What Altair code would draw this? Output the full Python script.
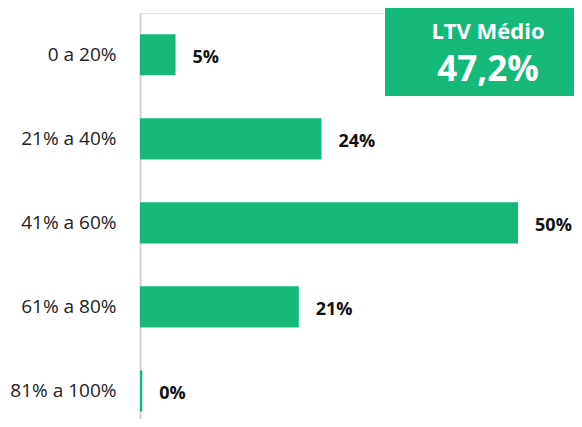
import altair as alt
import pandas as pd

categories = ["0 a 20%", "21% a 40%", "41% a 60%", "61% a 80%", "81% a 100%"]
values = [4.7, 24.0, 50.0, 21.0, 0.3]
labels = ["5%", "24%", "50%", "21%", "0%"]
box_title = "LTV Médio"
box_value = "47,2%"

df = pd.DataFrame({"faixa": categories, "valor": values, "rotulo": labels})

GREEN = "#14B97A"

y_enc = alt.Y("faixa:N", sort=categories, title=None,
              scale=alt.Scale(paddingInner=0.51, paddingOuter=0.17, align=0.74),
              axis=alt.Axis(domainColor="#d4d4d4", domainWidth=2, ticks=False,
                            labelPadding=24, labelFontSize=19, labelColor="#222222",
                            labelFont="Open Sans", labelFontWeight="normal"))
x_enc = alt.X("valor:Q", scale=alt.Scale(domain=[0, 57.4], nice=False), axis=None)

bars = alt.Chart(df).mark_bar(color=GREEN).encode(x=x_enc, y=y_enc)
text = alt.Chart(df).mark_text(align="left", baseline="middle", dx=17, dy=3,
                               fontSize=18, fontWeight="bold", font="Open Sans",
                               color="#111111").encode(x=x_enc, y=alt.Y("faixa:N", sort=categories), text="rotulo:N")

box_df = pd.DataFrame({"t": [box_title], "v": [box_value]})
box = alt.Chart(box_df).mark_rect(color=GREEN).encode(
    x=alt.value(245), x2=alt.value(434), y=alt.value(-5), y2=alt.value(83))
t1 = alt.Chart(box_df).mark_text(color="white", fontSize=22, fontWeight="bold",
                                  font="Open Sans", align="center", baseline="middle").encode(
    x=alt.value(348), y=alt.value(19), text="t:N")
t2 = alt.Chart(box_df).mark_text(color="white", fontSize=35, fontWeight="bold",
                                  font="Open Sans", align="center", baseline="middle").encode(
    x=alt.value(348), y=alt.value(57), text="v:N")

chart = alt.layer(bars, text, box, t1, t2).properties(
    width=434, height=406,
    autosize=alt.AutoSizeParams(type="none"),
    padding={"left": 132, "top": 5, "right": 0, "bottom": 0},
).configure_view(stroke=None).configure(background="white")

chart.save("out.html", embed_options={"renderer": "svg", "actions": False})
